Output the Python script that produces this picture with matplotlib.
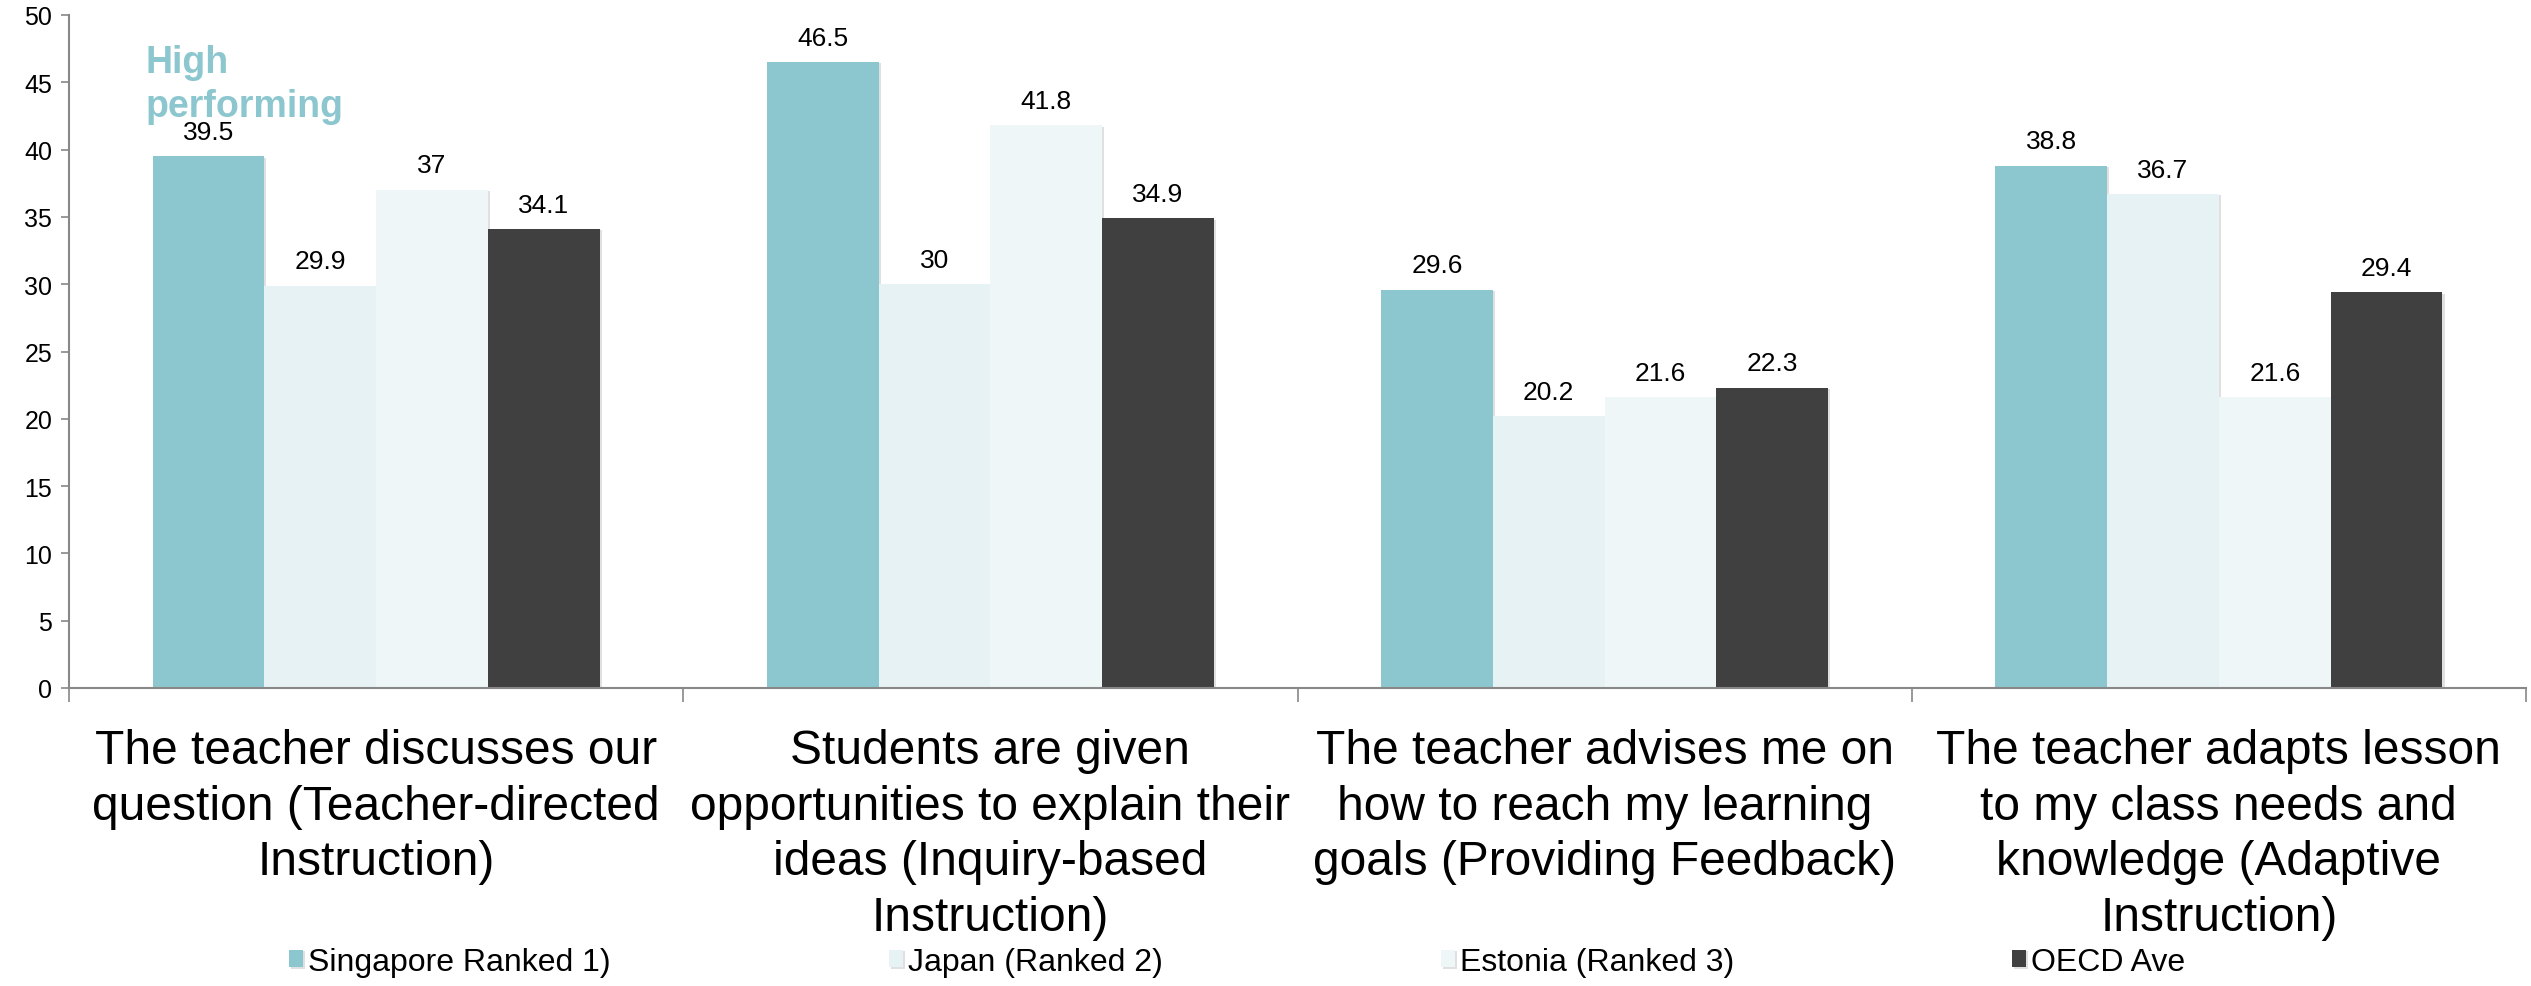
import numpy as np
import matplotlib
matplotlib.use('Agg')
import matplotlib.pyplot as plt
import matplotlib.patheffects as pe

plt.rcParams['font.family'] = ['Liberation Sans', 'DejaVu Sans']

# data
categories = [
    'The teacher discusses our\nquestion (Teacher-directed\nInstruction)',
    'Students are given\nopportunities to explain their\nideas (Inquiry-based\nInstruction)',
    'The teacher advises me on\nhow to reach my learning\ngoals (Providing Feedback)',
    'The teacher adapts lesson\nto my class needs and\nknowledge (Adaptive\nInstruction)',
]
series_names = ['Singapore Ranked 1)', 'Japan (Ranked 2)', 'Estonia (Ranked 3)', 'OECD Ave']
singapore = [39.5, 46.5, 29.6, 38.8]
japan = [29.9, 30, 20.2, 36.7]
estonia = [37, 41.8, 21.6, 21.6]
oecd = [34.1, 34.9, 22.3, 29.4]
colors = ['#8CC6CE', '#E6F2F3', '#EEF6F8', '#404040']

W, H = 2531, 987
fig = plt.figure(figsize=(W / 100, H / 100), dpi=100)
ax = fig.add_axes([69 / W, 1 - 689 / H, (2526 - 69) / W, (689 - 16) / H])

x = np.arange(len(categories))
bw = 0.182
shadow = [pe.SimplePatchShadow(offset=(1.5, -1), shadow_rgbFace='#999999', alpha=0.3), pe.Normal()]
for i, (name, vals) in enumerate(zip(series_names, [singapore, japan, estonia, oecd])):
    bars = ax.bar(x + (i - 1.5) * bw, vals, bw, color=colors[i], label=name,
                  edgecolor='none', zorder=2)
    for b in bars:
        b.set_path_effects(shadow)
    for b, v in zip(bars, vals):
        ax.annotate(f'{v:g}', (b.get_x() + b.get_width() / 2, v), xytext=(0, 9),
                    textcoords='offset points', ha='center', va='bottom', fontsize=19)

ax.set_xlim(-0.5, 3.5)
ax.set_ylim(0, 50)
ax.set_yticks(np.arange(0, 51, 5))
ax.tick_params(axis='y', labelsize=18, length=6, width=1.2, color='#888888', pad=6)

ax.set_xticks(np.arange(-0.5, 3.6, 1))
ax.set_xticklabels([])
ax.tick_params(axis='x', which='major', length=10, width=1.2, color='#888888')
ax.set_xticks(x, minor=True)
ax.set_xticklabels(categories, minor=True, fontsize=34.5, linespacing=1.3)
ax.tick_params(axis='x', which='minor', length=0, pad=29)

for s in ['top', 'right']:
    ax.spines[s].set_visible(False)
for s in ['left', 'bottom']:
    ax.spines[s].set_color('#888888')
    ax.spines[s].set_linewidth(1.5)

ax.text(0.031, 0.957, 'High\nperforming', transform=ax.transAxes, ha='left', va='top',
        fontsize=27, fontweight='bold', color='#8CC6CE', linespacing=1.3, zorder=1)

fig.legend(loc='center left', bbox_to_anchor=(289 / W, 1 - 963 / H), ncol=4,
           frameon=False, fontsize=23, handlelength=0.45, handleheight=0.45,
           handletextpad=0.15, columnspacing=8.7, borderpad=0, borderaxespad=0)

fig.savefig('out.png', dpi=100)
